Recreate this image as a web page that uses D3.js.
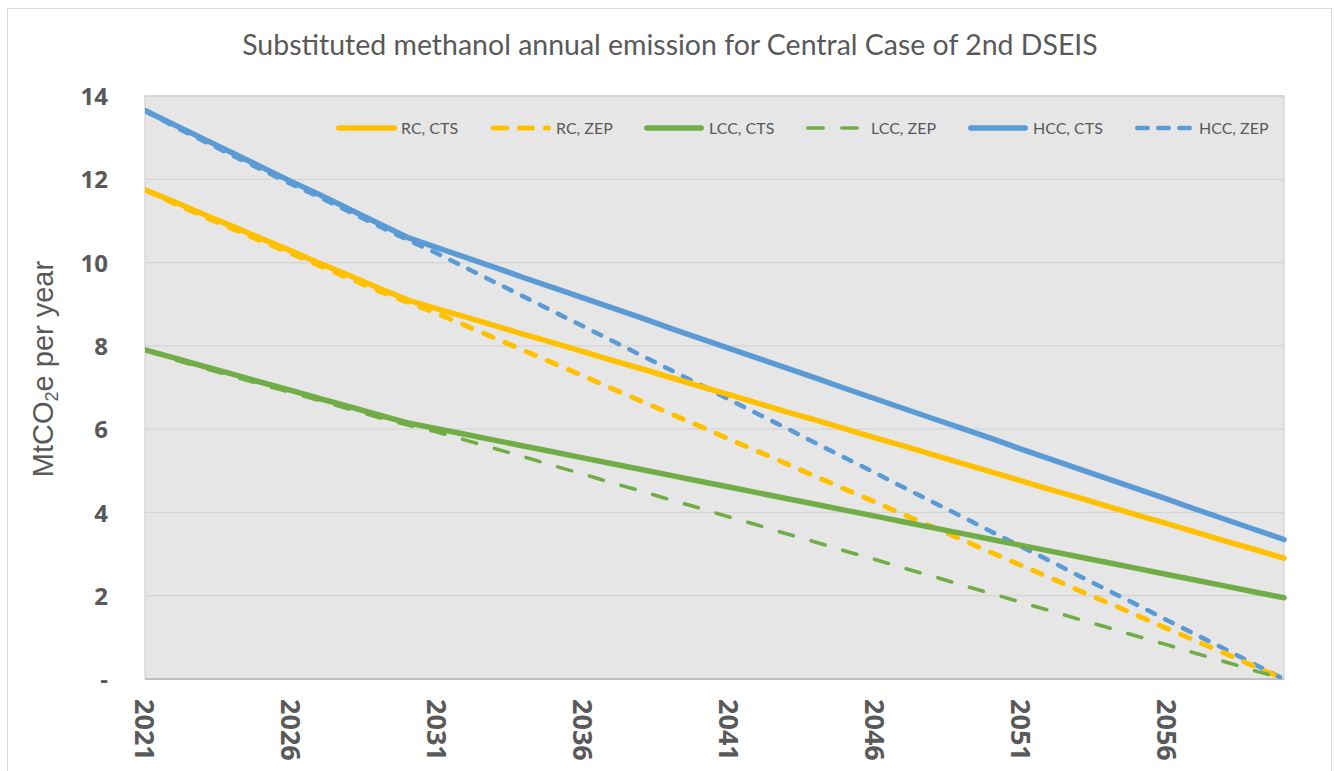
<!DOCTYPE html>
<html><head><meta charset="utf-8">
<script src="https://cdn.jsdelivr.net/npm/d3@7"></script>
<style>body{margin:0;background:#fff}</style>
</head><body>
<svg id="c" width="1334" height="771"></svg>
<script>
const years = d3.range(2021, 2061);
const tickYears = [2021, 2026, 2031, 2036, 2041, 2046, 2051, 2056];
const yTicks = [0, 2, 4, 6, 8, 10, 12, 14];
const seriesNames = ["RC, CTS", "RC, ZEP", "LCC, CTS", "LCC, ZEP", "HCC, CTS", "HCC, ZEP"];
const rcCts = [11.75,11.46,11.16,10.87,10.57,10.28,9.98,9.69,9.39,9.10,8.89,8.69,8.48,8.27,8.07,7.86,7.65,7.45,7.24,7.03,6.83,6.62,6.41,6.21,6.00,5.79,5.59,5.38,5.17,4.97,4.76,4.55,4.35,4.14,3.93,3.73,3.52,3.31,3.11,2.90];
const rcZep = [11.75,11.42,11.11,10.81,10.51,10.22,9.92,9.62,9.32,9.05,8.78,8.48,8.18,7.88,7.58,7.28,6.97,6.67,6.37,6.07,5.76,5.46,5.16,4.85,4.55,4.25,3.94,3.64,3.34,3.03,2.73,2.43,2.12,1.82,1.52,1.21,0.91,0.61,0.30,0.00];
const lccCts = [7.90,7.71,7.51,7.32,7.12,6.93,6.73,6.54,6.34,6.15,6.01,5.87,5.73,5.59,5.45,5.31,5.17,5.03,4.89,4.75,4.61,4.47,4.33,4.19,4.05,3.91,3.77,3.63,3.49,3.35,3.21,3.07,2.93,2.79,2.65,2.51,2.37,2.23,2.09,1.95];
const lccZep = [7.90,7.67,7.47,7.27,7.07,6.88,6.68,6.48,6.28,6.10,5.93,5.73,5.53,5.33,5.12,4.92,4.71,4.51,4.30,4.10,3.89,3.69,3.48,3.28,3.07,2.87,2.66,2.46,2.25,2.05,1.84,1.64,1.43,1.23,1.02,0.82,0.61,0.41,0.20,0.00];
const hccCts = [13.65,13.31,12.97,12.63,12.29,11.95,11.62,11.28,10.94,10.60,10.36,10.12,9.88,9.63,9.39,9.15,8.91,8.67,8.42,8.18,7.94,7.70,7.46,7.22,6.97,6.73,6.49,6.25,6.01,5.77,5.52,5.28,5.04,4.80,4.56,4.32,4.07,3.83,3.59,3.35];
const hccZep = [13.65,13.27,12.92,12.57,12.23,11.89,11.56,11.22,10.88,10.54,10.22,9.87,9.52,9.17,8.82,8.47,8.12,7.77,7.42,7.07,6.71,6.36,6.01,5.65,5.30,4.95,4.59,4.24,3.89,3.53,3.18,2.83,2.47,2.12,1.77,1.41,1.06,0.71,0.35,0.00];

const seriesData = [rcCts, rcZep, lccCts, lccZep, hccCts, hccZep];
const colors = ["#FFC000","#FFC000","#70AD47","#70AD47","#5B9BD5","#5B9BD5"];
const dashes = [null, "10,13", null, "14.5,18.5", null, "8.5,11.5"];
const widths = [5.5, 5, 5.5, 3.6, 5.5, 4.5];

const svg = d3.select("#c");
const L = 145, R = 1284, T = 96, B = 679;

// outer border
svg.append("rect").attr("x",7.5).attr("y",8.5).attr("width",1324).attr("height",780)
  .attr("fill","#fff").attr("stroke","#d9d9d9").attr("stroke-width",1);

const x = d3.scalePoint().domain(years).range([L, R]);
const y = d3.scaleLinear().domain([0, 14]).range([B, T]);

svg.append("rect").attr("x",L).attr("y",T).attr("width",R-L).attr("height",B-T)
  .attr("fill","#e6e6e6").attr("stroke","#c9c9c9").attr("stroke-width",1);

// gridlines
svg.append("g").selectAll("line").data(yTicks.filter(d=>d>0)).join("line")
  .attr("x1",L).attr("x2",R).attr("y1",d=>y(d)).attr("y2",d=>y(d))
  .attr("stroke","#d4d4d4").attr("stroke-width",1.3);

// bottom axis line
svg.append("line").attr("x1",L).attr("x2",R).attr("y1",B).attr("y2",B)
  .attr("stroke","#bfbfbf").attr("stroke-width",2);

// y axis labels
const yAxis = d3.axisLeft(y).tickValues(yTicks).tickSize(0).tickPadding(0)
  .tickFormat(d => d === 0 ? "-" : d);
const gy = svg.append("g").attr("transform",`translate(${L-37},0)`).call(yAxis);
gy.select(".domain").remove();
gy.selectAll("text").attr("font-family","'Open Sans', sans-serif").attr("font-weight","bold")
  .attr("font-size",24).attr("fill","#595959").attr("dy","0.36em");

// x axis labels
const xAxis = d3.axisBottom(x).tickValues(tickYears).tickSize(0).tickPadding(0);
const gx = svg.append("g").attr("transform",`translate(0,${B})`).call(xAxis);
gx.select(".domain").remove();
gx.selectAll("text").attr("font-family","'Open Sans', sans-serif").attr("font-weight","bold")
  .attr("font-size",27).attr("fill","#595959")
  .attr("text-anchor","start").attr("dy",null).attr("y",0)
  .attr("transform","translate(0,20) rotate(90)").attr("dominant-baseline","central");

// lines
const line = d3.line().x((d,i)=>x(years[i])).y(d=>y(d));
svg.append("clipPath").attr("id","pc").append("rect")
  .attr("x",L).attr("y",T).attr("width",R-L+3).attr("height",B-T+3);
const gl = svg.append("g").attr("clip-path","url(#pc)");
[4,5,0,1,2,3].forEach(i => {
  gl.append("path").datum(seriesData[i]).attr("d",line).attr("fill","none")
    .attr("stroke",colors[i]).attr("stroke-width",widths[i])
    .attr("stroke-dasharray",dashes[i]).attr("stroke-linecap","round").attr("stroke-linejoin","round");
});

// legend
const legX1 = [336, 491, 644, 806, 968, 1135];
const legX2 = [397, 551, 704, 860, 1028, 1193];
const legDash = [null, "13,13", null, "15.4,18.6", null, "10.5,10.5"];
const legTextX = [401, 556, 709, 871, 1033, 1199];
const lg = svg.append("g");
seriesNames.forEach((n,i) => {
  const w = widths[i];
  lg.append("line").attr("x1",legX1[i]+w/2).attr("x2",legX2[i]-w/2).attr("y1",128).attr("y2",128)
    .attr("stroke",colors[i]).attr("stroke-width",w)
    .attr("stroke-dasharray",legDash[i]).attr("stroke-linecap","round");
  lg.append("text").attr("x",legTextX[i]).attr("y",128).attr("dy","0.35em")
    .attr("font-family","Lato, 'Open Sans', sans-serif").attr("font-size",16).attr("fill","#595959").text(n);
});

// title
const title = svg.append("text").attr("x",670).attr("y",45).attr("dy","0.35em").attr("text-anchor","middle")
  .attr("font-family","Lato, 'Open Sans', sans-serif").attr("font-size",21).attr("fill","#595959")
  .text("Substituted methanol annual emission for Central Case of 2nd DSEIS");
const tw = title.node().getComputedTextLength();
title.attr("font-size", 21 * 856 / tw);

// y axis title
const yt = svg.append("text").attr("transform","translate(53,369) rotate(-90)").attr("text-anchor","middle")
  .attr("font-family","'Liberation Sans', Arial, sans-serif").attr("font-size",29).attr("fill","#595959");
yt.append("tspan").text("MtCO");
yt.append("tspan").attr("font-size",18).attr("dy","0.3em").text("2");
yt.append("tspan").attr("dy","-0.19em").text("e per year");
</script>
</body></html>
